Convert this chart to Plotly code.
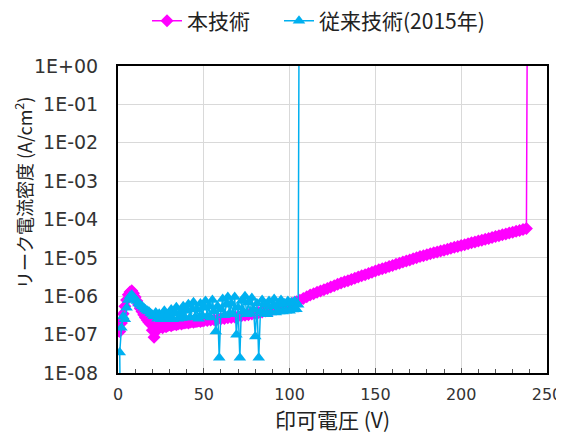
import plotly.graph_objects as go

# ---------------- data ----------------
# 本技術 (magenta): 0-50 V every 1 V, then 52-238 V every 2 V, then breakdown
new_v = list(range(0, 51)) + list(range(52, 239, 2)) + [238.5]
new_j = [
    1.8e-7, 1.2e-7, 2.0e-7, 3.5e-7, 5.5e-7, 8.0e-7, 1.1e-6, 1.3e-6, 1.4e-6, 1.2e-6,
    9.5e-7, 7.5e-7, 6.0e-7, 4.8e-7, 4.0e-7, 3.3e-7, 2.8e-7, 2.4e-7, 2.1e-7, 1.9e-7,
    1.3e-7, 8.5e-8, 1.2e-7, 1.7e-7, 1.6e-7, 1.7e-7, 1.5e-7, 1.7e-7, 1.6e-7, 1.7e-7,
    1.8e-7, 1.7e-7, 1.8e-7, 1.9e-7, 1.8e-7, 1.9e-7, 2.0e-7, 1.9e-7, 2.0e-7, 2.0e-7,
    2.1e-7, 2.0e-7, 2.1e-7, 2.2e-7, 2.1e-7, 2.2e-7, 2.2e-7, 2.3e-7, 2.2e-7, 2.3e-7,
    2.3e-7,
    2.35e-7, 2.4e-7, 2.45e-7, 2.5e-7, 2.6e-7, 2.65e-7, 2.75e-7, 2.8e-7, 2.9e-7, 3.0e-7,
    3.1e-7, 3.2e-7, 3.3e-7, 3.45e-7, 3.6e-7, 3.75e-7, 3.9e-7, 4.1e-7, 4.3e-7, 4.5e-7,
    4.8e-7, 5.1e-7, 5.4e-7, 5.7e-7, 6.0e-7, 6.6e-7, 7.2e-7, 7.9e-7, 8.7e-7, 9.7e-7,
    1.08e-6, 1.17e-6, 1.27e-6, 1.37e-6, 1.48e-6, 1.6e-6, 1.74e-6, 1.88e-6, 2.04e-6, 2.2e-6,
    2.37e-6, 2.55e-6, 2.74e-6, 2.94e-6, 3.16e-6, 3.4e-6, 3.65e-6, 3.93e-6, 4.22e-6, 4.54e-6,
    4.88e-6, 5.2e-6, 5.55e-6, 5.95e-6, 6.35e-6, 6.8e-6, 7.25e-6, 7.75e-6, 8.3e-6, 8.85e-6,
    9.45e-6, 1.01e-5, 1.08e-5, 1.14e-5, 1.21e-5, 1.28e-5, 1.35e-5, 1.43e-5, 1.51e-5, 1.59e-5,
    1.68e-5, 1.78e-5, 1.88e-5, 1.99e-5, 2.1e-5, 2.21e-5, 2.33e-5, 2.46e-5, 2.6e-5, 2.74e-5,
    2.89e-5, 3.05e-5, 3.22e-5, 3.4e-5, 3.58e-5, 3.78e-5, 3.99e-5, 4.2e-5, 4.43e-5, 4.68e-5,
    4.93e-5, 5.2e-5, 5.5e-5, 5.8e-5,
    10.0,
]

# 従来技術(2015年) (blue): 1-105 V every 1 V (first reading below the axis), then breakdown
old_v = [1.2] + list(range(1, 106)) + [105.5]
old_j = [
    5.0e-9,
    3.4e-8, 1.5e-7, 3.0e-7, 2.5e-7, 5.0e-7, 8.0e-7, 1.0e-6, 1.1e-6, 9.5e-7,
    8.5e-7, 7.5e-7, 6.5e-7, 6.0e-7, 5.5e-7, 5.0e-7, 4.5e-7, 4.2e-7, 4.0e-7, 3.6e-7,
    3.3e-7, 3.0e-7, 3.8e-7, 2.6e-7, 3.5e-7, 2.5e-7, 3.0e-7, 4.2e-7, 2.5e-7, 3.4e-7,
    2.6e-7, 4.5e-7, 2.5e-7, 3.5e-7, 5.2e-7, 2.6e-7, 3.8e-7, 2.7e-7, 5.5e-7, 2.8e-7,
    4.2e-7, 6.2e-7, 2.8e-7, 4.5e-7, 7.0e-7, 2.9e-7, 4.6e-7, 2.6e-7, 6.5e-7, 3.2e-7,
    5.0e-7, 7.5e-7, 3.0e-7, 5.5e-7, 2.8e-7, 8.0e-7, 4.0e-7, 1.2e-7, 5.5e-7, 2.5e-8,
    4.5e-7, 8.5e-7, 3.2e-7, 6.0e-7, 9.5e-7, 3.6e-7, 6.5e-7, 3.4e-7, 9.5e-7, 1.0e-7,
    5.0e-7, 2.5e-8, 7.5e-7, 4.0e-7, 1.0e-6, 3.4e-7, 7.0e-7, 3.6e-7, 9.0e-7, 4.5e-7,
    9.0e-8, 6.5e-7, 2.5e-8, 4.0e-7, 8.0e-7, 3.6e-7, 6.0e-7, 3.4e-7, 7.5e-7, 3.8e-7,
    5.5e-7, 8.5e-7, 3.8e-7, 6.0e-7, 4.0e-7, 8.0e-7, 4.0e-7, 6.5e-7, 4.2e-7, 7.5e-7,
    4.2e-7, 7.0e-7, 4.5e-7, 7.5e-7, 4.6e-7, 6.0e-7,
    10.0,
]

y_tickvals = [1e-8, 1e-7, 1e-6, 1e-5, 1e-4, 1e-3, 1e-2, 1e-1, 1e0]
y_ticktext = ["1E-08", "1E-07", "1E-06", "1E-05", "1E-04", "1E-03", "1E-02", "1E-01", "1E+00"]
x_tickvals = [0, 50, 100, 150, 200, 250]

MAGENTA = "#FF00FF"
BLUE = "#00B0F0"
CJK = "Noto Sans CJK JP, DejaVu Sans"
W, H = 564, 436
# page is drawn with an ~8px body offset; margins compensate for it
ML, MR, MT, MB = 110, 25, 58, 71

fig = go.Figure()
fig.add_trace(go.Scatter(
    x=new_v, y=new_j, name="本技術", mode="lines+markers", legend="legend",
    line=dict(color=MAGENTA, width=1.5),
    marker=dict(symbol="diamond", size=10, color=MAGENTA),
))
fig.add_trace(go.Scatter(
    x=old_v, y=old_j, name="従来技術(2015年)", mode="lines+markers", legend="legend2",
    line=dict(color=BLUE, width=1.5),
    marker=dict(symbol="triangle-up", size=11, color=BLUE),
))

leg_common = dict(orientation="h", xref="container", yref="container",
                  xanchor="left", y=1 - 13 / H, yanchor="middle",
                  font=dict(size=21, family=CJK, color="#222222"),
                  itemwidth=30, bgcolor="rgba(0,0,0,0)")

plot_w = W - ML - MR
plot_h = H - MT - MB

fig.update_layout(
    width=W, height=H,
    margin=dict(l=ML, r=MR, t=MT, b=MB, autoexpand=False),
    paper_bgcolor="white", plot_bgcolor="white",
    font=dict(family="DejaVu Sans, Noto Sans CJK JP", color="#222222", size=16),
    showlegend=True,
    legend=dict(x=139 / W, **leg_common),
    legend2=dict(x=271 / W, **leg_common),
    annotations=[dict(
        text="リーク電流密度 (A/cm<sup>2</sup>)", textangle=-90,
        xref="paper", yref="paper",
        x=(15 - ML) / plot_w, y=(MT + plot_h - 185) / plot_h,
        xanchor="center", yanchor="middle", showarrow=False,
        font=dict(size=18, family=CJK, color="#222222"),
    )],
)
fig.update_xaxes(
    range=[0, 250], tickvals=x_tickvals, automargin=False,
    showgrid=True, gridcolor="#d9d9d9", gridwidth=1,
    showline=True, linecolor="black", linewidth=2, mirror=True,
    ticks="inside", ticklen=5, tickcolor="#555555",
    minor=dict(ticks="inside", dtick=10, ticklen=4, tickcolor="#555555", showgrid=False),
    tickfont=dict(size=16, color="#333333"),
    ticklabelstandoff=6,
    zeroline=False,
    title=dict(text="印可電圧 (V)", font=dict(size=21, family=CJK, color="#222222"), standoff=2),
)
fig.update_yaxes(
    type="log", range=[-8, 0], tickvals=y_tickvals, ticktext=y_ticktext, automargin=False,
    showgrid=True, gridcolor="#d9d9d9", gridwidth=1,
    showline=True, linecolor="black", linewidth=2, mirror=True,
    ticks="", tickfont=dict(size=19, color="#333333"),
    ticklabelstandoff=14,
    zeroline=False,
)

fig.write_html("out.html")
